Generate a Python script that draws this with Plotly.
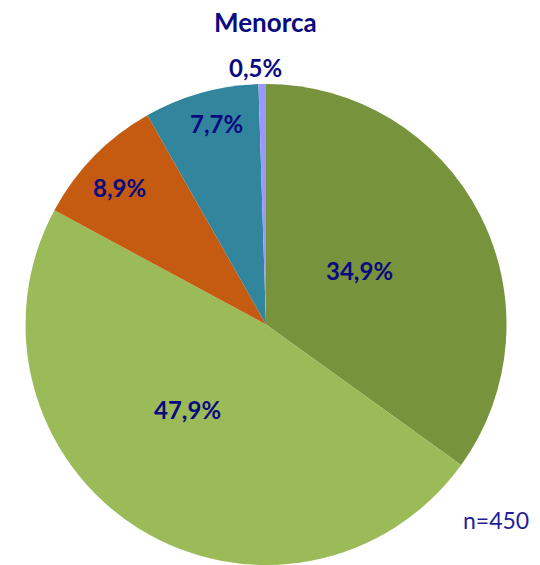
import math
import plotly.graph_objects as go

labels = ["A", "B", "C", "D", "E"]
values = [34.9, 47.9, 8.9, 7.7, 0.5]
colors = ["#77933C", "#9BBB59", "#C55A11", "#31859C", "#9999FF"]
# label placement style: (angle offset in degrees, radius fraction)
label_style = [(-2.8, 0.45), (10.8, 0.48), (-1.1, 0.834), (1.8, 0.86), (-1.5, 1.071)]
title_text = "Menorca"
note_text = "n=450"

W, H = 540, 565
cx, cy, r = 266, 325, 241

fig = go.Figure(go.Pie(
    labels=labels,
    values=values,
    sort=False,
    direction="clockwise",
    rotation=0,
    marker=dict(colors=colors, line=dict(width=0)),
    textinfo="none",
    showlegend=False,
    hoverinfo="skip",
    domain=dict(x=[(cx - r) / W, (cx + r) / W], y=[max(0, (H - cy - r) / H), (H - cy + r) / H]),
))

total = sum(values)
annotations = []
cum = 0.0
for v, (off, frac) in zip(values, label_style):
    mid = (cum + v / 2) / total * 360 + off
    cum += v
    px = cx + frac * r * math.sin(math.radians(mid))
    py = cy - frac * r * math.cos(math.radians(mid))
    annotations.append(dict(
        text="<b>" + f"{v:.1f}".replace(".", ",") + "%</b>",
        x=px / W, y=1 - py / H, xref="paper", yref="paper",
        xanchor="center", yanchor="middle", showarrow=False,
        font=dict(family="Lato", size=24, color="#0A0A80"),
    ))

annotations.append(dict(text="<b>" + title_text + "</b>", x=265 / W, y=1 - 22 / H, xref="paper", yref="paper",
                        xanchor="center", yanchor="middle", showarrow=False,
                        font=dict(family="Lato", size=26, color="#0A0A80")))
annotations.append(dict(text=note_text, x=495.5 / W, y=1 - 520 / H, xref="paper", yref="paper",
                        xanchor="center", yanchor="middle", showarrow=False,
                        font=dict(family="Lato", size=23, color="#1F1F99")))

fig.update_layout(
    width=W, height=H,
    margin=dict(l=0, r=0, t=0, b=0),
    paper_bgcolor="white",
    annotations=annotations,
)

fig.write_html("out.html", config={"displayModeBar": False},
               post_script="document.body.style.margin='0';document.body.style.overflow='hidden';")
